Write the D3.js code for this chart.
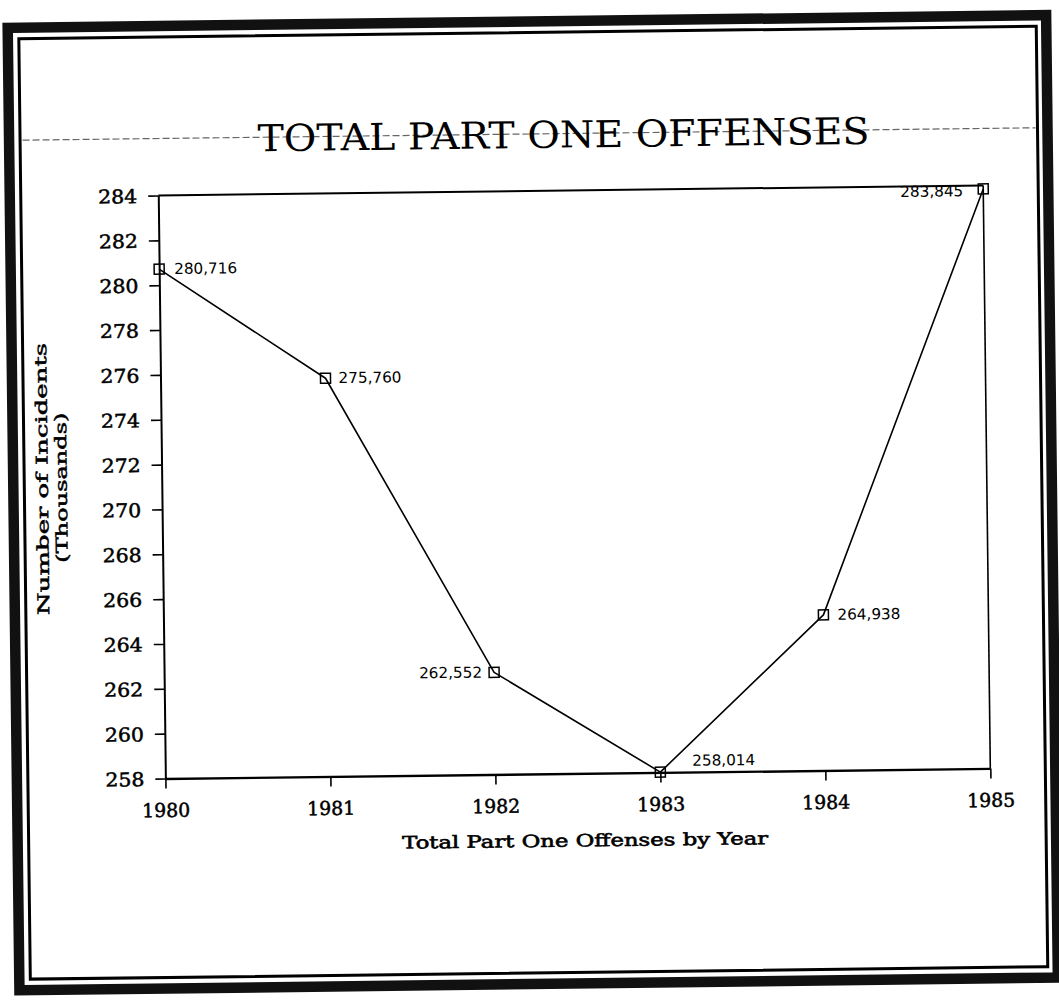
<!DOCTYPE html>
<html>
<head>
<meta charset="utf-8">
<script src="https://cdn.jsdelivr.net/npm/d3@7"></script>
<style>
  html, body { margin: 0; padding: 0; background: #fff; }
  svg { display: block; }
</style>
</head>
<body>
<svg id="chart" width="1059" height="1002"></svg>
<script>
// ---- data ----
const years = [1980, 1981, 1982, 1983, 1984, 1985];
const incidents = [280.716, 275.760, 262.552, 258.014, 264.938, 283.845]; // thousands
const pointLabels = ["280,716", "275,760", "262,552", "258,014", "264,938", "283,845"];
const yTicks = [258, 260, 262, 264, 266, 268, 270, 272, 274, 276, 278, 280, 282, 284];
const xTicks = [1980, 1981, 1982, 1983, 1984, 1985];
const titleText = "TOTAL PART ONE OFFENSES";
const yTitleLines = ["Number of Incidents", "(Thousands)"];
const xTitleText = "Total Part One Offenses by Year";

// ---- layout ----
const W = 1059, H = 1002;
const plot = { left: 162, right: 987, top: 191, bottom: 774 };
// label placement relative to each marker: [dx, dy, anchor]
const labelPlace = [[15, 5, "start"], [13, 5, "start"], [-12, 5, "end"], [32, -6, "start"], [14, 5, "start"], [-20, 7, "end"]];

const svg = d3.select("#chart");
svg.append("rect").attr("width", W).attr("height", H).attr("fill", "#fff");

const g = svg.append("g").attr("transform", "rotate(-0.7 530 500)");

// frame
g.append("rect").attr("x", 13.5).attr("y", 21.5).attr("width", 1052 - 13.5).attr("height", 984 - 21.5)
  .attr("fill", "none").attr("stroke", "#111").attr("stroke-width", 10.5);
g.append("rect").attr("x", 24.5).attr("y", 32.5).attr("width", 1042 - 24.5).attr("height", 973 - 32.5)
  .attr("fill", "none").attr("stroke", "#000").attr("stroke-width", 3);

// dashed rule through title
g.append("line").attr("x1", 27).attr("x2", 1040).attr("y1", 134).attr("y2", 134)
  .attr("stroke", "#666").attr("stroke-width", 1.2).attr("stroke-dasharray", "7,3");

// title
g.append("text").attr("x", 568).attr("y", 148).attr("text-anchor", "middle")
  .attr("font-family", "'DejaVu Serif', serif").attr("font-size", 37)
  .attr("textLength", 612).attr("lengthAdjust", "spacingAndGlyphs")
  .attr("fill", "#000").text(titleText);

// scales
const x = d3.scaleLinear().domain([1980, 1985]).range([plot.left, plot.right]);
const y = d3.scaleLinear().domain([258, 284]).range([plot.bottom, plot.top]);

// box top/right
g.append("line").attr("x1", plot.left).attr("x2", plot.right).attr("y1", plot.top).attr("y2", plot.top)
  .attr("stroke", "#000").attr("stroke-width", 2);
g.append("line").attr("x1", plot.right).attr("x2", plot.right).attr("y1", plot.top).attr("y2", plot.bottom)
  .attr("stroke", "#000").attr("stroke-width", 1.6);

// y axis
const yAxis = g.append("g").attr("transform", `translate(${plot.left},0)`)
  .call(d3.axisLeft(y).tickValues(yTicks).tickSize(10).tickSizeOuter(0).tickPadding(11).tickFormat(d3.format("d")));
yAxis.select(".domain").attr("stroke", "#000").attr("stroke-width", 2);
yAxis.selectAll(".tick line").attr("stroke", "#000").attr("stroke-width", 1.6);
yAxis.selectAll(".tick text")
  .attr("font-family", "'DejaVu Serif', serif").attr("font-size", 19).attr("fill", "#000")
  .attr("stroke", "#000").attr("stroke-width", 0.5)
  .attr("textLength", 39).attr("lengthAdjust", "spacingAndGlyphs").attr("dy", "0.36em");

// x axis
const xAxis = g.append("g").attr("transform", `translate(0,${plot.bottom})`)
  .call(d3.axisBottom(x).tickValues(xTicks).tickSize(10).tickSizeOuter(0).tickPadding(15).tickFormat(d3.format("d")));
xAxis.select(".domain").attr("stroke", "#000").attr("stroke-width", 2.4);
xAxis.selectAll(".tick line").attr("stroke", "#000").attr("stroke-width", 1.6);
xAxis.selectAll(".tick text")
  .attr("font-family", "'DejaVu Serif', serif").attr("font-size", 19).attr("fill", "#000")
  .attr("stroke", "#000").attr("stroke-width", 0.5)
  .attr("textLength", 48).attr("lengthAdjust", "spacingAndGlyphs");

// axis titles
g.append("text").attr("transform", "translate(48,473) rotate(-90)").attr("text-anchor", "middle")
  .attr("font-family", "'DejaVu Serif', serif").attr("font-size", 16)
  .attr("stroke", "#000").attr("stroke-width", 0.5)
  .attr("textLength", 272).attr("lengthAdjust", "spacingAndGlyphs").attr("fill", "#000").text(yTitleLines[0]);
g.append("text").attr("transform", "translate(67,482) rotate(-90)").attr("text-anchor", "middle")
  .attr("font-family", "'DejaVu Serif', serif").attr("font-size", 16)
  .attr("stroke", "#000").attr("stroke-width", 0.5)
  .attr("textLength", 150).attr("lengthAdjust", "spacingAndGlyphs").attr("fill", "#000").text(yTitleLines[1]);
g.append("text").attr("x", 581).attr("y", 847).attr("text-anchor", "middle")
  .attr("font-family", "'DejaVu Serif', serif").attr("font-size", 17)
  .attr("stroke", "#000").attr("stroke-width", 0.6)
  .attr("textLength", 366).attr("lengthAdjust", "spacingAndGlyphs").attr("fill", "#000").text(xTitleText);

// data
const data = years.map((yr, i) => ({ year: yr, value: incidents[i], label: pointLabels[i], place: labelPlace[i] }));

const line = d3.line().x(d => x(d.year)).y(d => y(d.value));
g.append("path").datum(data).attr("d", line)
  .attr("fill", "none").attr("stroke", "#000").attr("stroke-width", 1.6).attr("stroke-linejoin", "round");

const ms = 10;
g.selectAll("rect.marker").data(data).join("rect").attr("class", "marker")
  .attr("x", d => x(d.year) - ms / 2).attr("y", d => y(d.value) - ms / 2)
  .attr("width", ms).attr("height", ms)
  .attr("fill", "none").attr("stroke", "#000").attr("stroke-width", 1.5);

g.selectAll("text.vlabel").data(data).join("text").attr("class", "vlabel")
  .attr("x", d => x(d.year) + d.place[0]).attr("y", d => y(d.value) + d.place[1])
  .attr("text-anchor", d => d.place[2])
  .attr("font-family", "'Liberation Sans Narrow', 'DejaVu Sans Condensed', 'Liberation Sans', sans-serif")
  .attr("font-size", 15)
  .attr("textLength", 63).attr("lengthAdjust", "spacingAndGlyphs")
  .attr("fill", "#000").text(d => d.label);
</script>
</body>
</html>
